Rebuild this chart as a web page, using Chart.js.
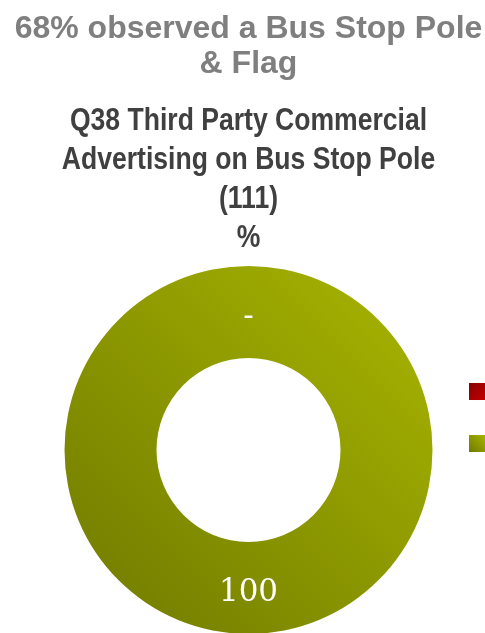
<!DOCTYPE html>
<html>
<head>
<meta charset="utf-8">
<script src="https://cdn.jsdelivr.net/npm/chart.js@4.4.0/dist/chart.umd.min.js"></script>
<style>
  html, body { margin: 0; padding: 0; background: #ffffff; overflow: hidden; }
  #chartBox { position: relative; width: 497px; height: 634px; }
</style>
</head>
<body>
<div id="chartBox"><canvas id="poleChart"></canvas></div>
<script>
// Answers and share of respondents (%)
const answerLabels = ["Yes", "No"];
const answerValues = [0, 100];

const headlineLines = ["68% observed a Bus Stop Pole", "& Flag"];
const questionLines = ["Q38 Third Party Commercial", "Advertising on Bus Stop Pole", "(111)", "%"];

// dark end / light end of each slice colour
const sliceShades = [
  ["#8a0000", "#c40000"],
  ["#6f7900", "#a9b600"],
];

// Ring fill: diagonal gradient, dark bottom-left to light top-right
const ringFill = (context) => {
  const i = context.dataIndex;
  const area = context.chart.chartArea;
  if (!area) return sliceShades[i][1];
  const cx = (area.left + area.right) / 2;
  const cy = (area.top + area.bottom) / 2;
  const r = Math.min(area.width, area.height) / 2;
  const g = context.chart.ctx.createLinearGradient(cx - r, cy + r, cx + r, cy - r);
  g.addColorStop(0, sliceShades[i][0]);
  g.addColorStop(1, sliceShades[i][1]);
  return g;
};

// Question text under the headline, set in a narrow bold face
// (no narrow font installed, so the regular bold is squeezed to 83%)
const questionHeading = {
  id: "questionHeading",
  afterDraw(chart) {
    const ctx = chart.ctx;
    const area = chart.chartArea;
    const cx = (area.left + area.right) / 2;
    ctx.save();
    ctx.fillStyle = "#404040";
    ctx.font = "bold 32px 'Liberation Sans', Arial, sans-serif";
    ctx.textAlign = "center";
    ctx.textBaseline = "middle";
    questionLines.forEach((line, i) => {
      const w = ctx.measureText(line).width;
      ctx.fillText(line, cx, area.top - 145 + i * 39, w * 0.83);
    });
    ctx.restore();
  },
};

// Value labels in the middle of each ring segment ("-" for empty answers)
const sliceValueLabels = {
  id: "sliceValueLabels",
  afterDatasetsDraw(chart) {
    const ctx = chart.ctx;
    const values = chart.data.datasets[0].data;
    ctx.save();
    ctx.fillStyle = "#ffffff";
    ctx.font = "31px 'DejaVu Serif', serif";
    ctx.textAlign = "center";
    ctx.textBaseline = "alphabetic";
    chart.getDatasetMeta(0).data.forEach((arc, i) => {
      const pos = arc.tooltipPosition(true);
      ctx.fillText(values[i] === 0 ? "-" : String(values[i]), pos.x, pos.y + 13);
    });
    ctx.restore();
  },
};

// Legend swatches stacked to the right of the ring
const sideLegend = {
  id: "sideLegend",
  afterDraw(chart) {
    const ctx = chart.ctx;
    const area = chart.chartArea;
    const cy = (area.top + area.bottom) / 2;
    const box = 17;
    const x = area.right - 28;
    ctx.save();
    chart.data.labels.forEach((label, i) => {
      const y = cy - 67 + i * 52;
      const g = i === 0
        ? ctx.createLinearGradient(x, y, x + box, y + box)
        : ctx.createLinearGradient(x, y + box, x + box, y);
      g.addColorStop(0, sliceShades[i][0]);
      g.addColorStop(1, sliceShades[i][1]);
      ctx.fillStyle = g;
      ctx.fillRect(x, y, box, box);
      ctx.fillStyle = "#404040";
      ctx.font = "17px 'Liberation Sans', Arial, sans-serif";
      ctx.textBaseline = "middle";
      ctx.fillText(label, x + box + 8, y + box / 2);
    });
    ctx.restore();
  },
};

new Chart(document.getElementById("poleChart"), {
  type: "doughnut",
  data: {
    labels: answerLabels,
    datasets: [
      {
        data: answerValues,
        backgroundColor: ringFill,
        borderWidth: 0,
      },
    ],
  },
  options: {
    responsive: true,
    maintainAspectRatio: false,
    animation: false,
    cutout: "50%",
    layout: { padding: 0 },
    plugins: {
      tooltip: { enabled: false },
      legend: { display: false },
      title: {
        display: true,
        text: headlineLines,
        color: "#7f7f7f",
        font: { family: "'Liberation Sans', Arial, sans-serif", size: 32, weight: "bold", lineHeight: 1.094 },
        // room below the headline is taken by the question lines
        padding: { top: 12, bottom: 184 },
      },
    },
  },
  plugins: [sliceValueLabels, questionHeading, sideLegend],
});
</script>
</body>
</html>
